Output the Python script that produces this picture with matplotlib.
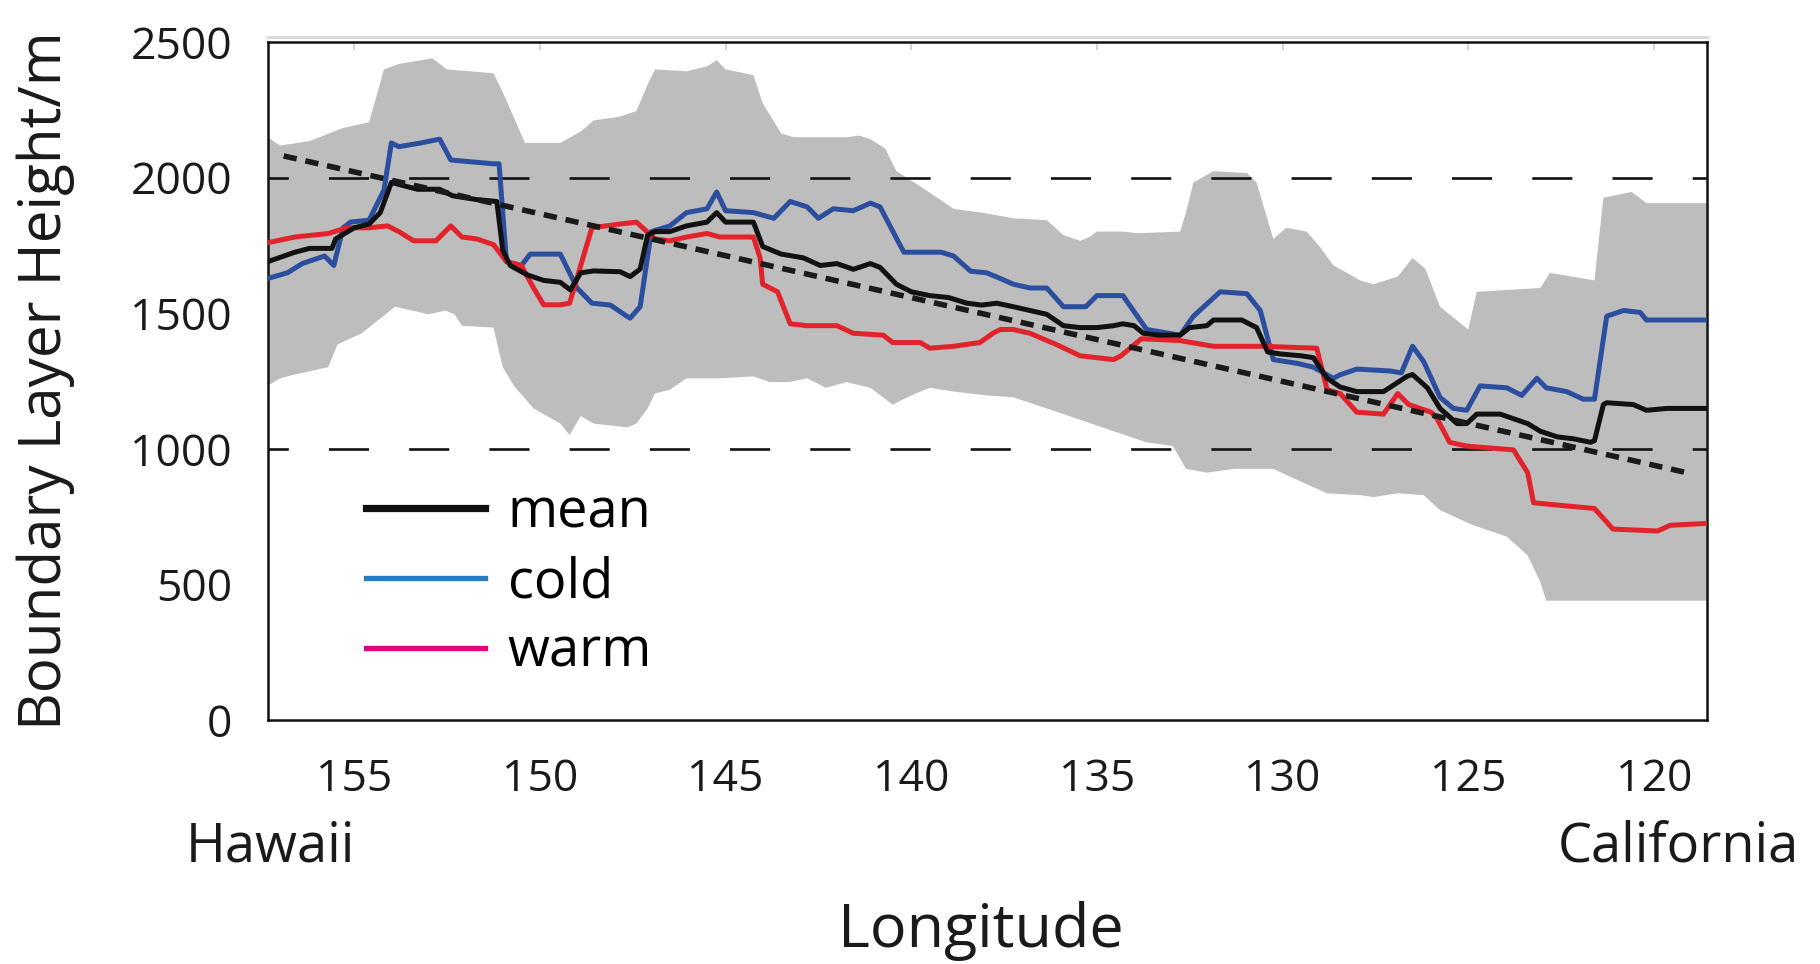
import matplotlib
matplotlib.use("Agg")
import matplotlib.pyplot as plt
from matplotlib.lines import Line2D
import numpy as np

plt.rcParams['font.family'] = ['Open Sans', 'DejaVu Sans']

# Spread envelope (upper and lower bounds of boundary layer height)
band_top_lon = [157.33, 157.0, 156.2, 155.3, 154.6, 154.2, 153.8, 152.9, 152.5, 151.25,
                151.0, 150.4, 149.45, 148.9, 148.55, 147.84, 147.4, 147.1, 146.9, 146.05,
                145.5, 145.24, 145.0, 144.25, 144.0, 143.5, 143.17, 141.74, 141.4, 141.1,
                140.7, 140.4, 139.76, 139.3, 138.86, 138.1, 137.25, 136.35, 135.9, 135.45,
                135.2, 135.0, 134.3, 133.9, 132.76, 132.6, 132.4, 131.86, 130.96, 130.7,
                130.25, 129.9, 129.35, 129.0, 128.63, 128.27, 127.9, 127.55, 126.9, 126.5,
                126.15, 125.76, 125.13, 125.0, 124.77, 123.06, 122.8, 122.2, 121.6, 121.36,
                120.6, 120.2, 118.58]
band_top_val = [2149, 2118, 2135, 2183, 2204, 2399, 2419, 2440, 2399, 2385,
                2315, 2128, 2128, 2170, 2211, 2225, 2246, 2343, 2399, 2392,
                2410, 2433, 2399, 2378, 2274, 2163, 2149, 2149, 2155, 2142,
                2107, 2024, 1968, 1926, 1885, 1871, 1850, 1843, 1788, 1767,
                1781, 1801, 1801, 1795, 1801, 1871, 1982, 2024, 2017, 1982,
                1774, 1815, 1801, 1746, 1676, 1649, 1620, 1607, 1635, 1704,
                1663, 1524, 1454, 1440, 1579, 1593, 1649, 1635, 1621, 1926,
                1947, 1906, 1906]

band_bot_lon = [157.33, 157.0, 156.6, 155.7, 155.45, 154.8, 153.9, 153.45, 153.0, 152.55,
                152.3, 152.1, 151.25, 151.0, 150.7, 150.17, 149.45, 149.2, 148.9, 148.55,
                147.65, 147.4, 147.1, 146.9, 146.5, 146.05, 145.15, 144.25, 143.8, 143.3,
                142.8, 142.3, 141.74, 141.1, 140.5, 140.0, 139.5, 138.86, 137.97, 137.25,
                136.35, 135.45, 134.55, 133.66, 132.95, 132.6, 132.04, 131.3, 130.25, 129.6,
                128.8, 127.9, 127.55, 126.9, 126.2, 125.76, 124.86, 123.96, 123.4, 123.06,
                122.9, 118.58]
band_bot_val = [1232, 1260, 1274, 1301, 1385, 1426, 1524, 1510, 1496, 1510,
                1496, 1454, 1447, 1301, 1232, 1149, 1093, 1051, 1121, 1093,
                1079, 1093, 1149, 1204, 1218, 1260, 1260, 1267, 1246, 1246,
                1260, 1225, 1246, 1225, 1163, 1197, 1225, 1211, 1197, 1190,
                1149, 1107, 1065, 1024, 1010, 926, 912, 926, 926, 885,
                836, 829, 822, 836, 829, 774, 718, 676, 607, 510,
                440, 440]

# Mean boundary layer height
mean_lon = [157.33, 156.6, 156.2, 155.6, 155.5, 155.0, 154.6, 154.3, 154.0, 153.8,
            153.3, 152.7, 152.35, 151.7, 151.16, 151.0, 150.8, 150.35, 149.9, 149.45,
            149.18, 148.9, 148.55, 147.84, 147.57, 147.3, 147.1, 146.9, 146.5, 146.05,
            145.5, 145.24, 145.0, 144.25, 144.0, 143.5, 142.9, 142.45, 142.0, 141.56,
            141.1, 140.84, 140.4, 140.0, 139.5, 139.0, 138.5, 138.1, 137.7, 137.25,
            136.8, 136.35, 135.9, 135.45, 135.0, 134.55, 134.3, 134.0, 133.75, 133.3,
            132.76, 132.5, 132.04, 131.86, 131.1, 130.7, 130.4, 130.07, 129.5, 129.17,
            128.8, 128.45, 128.0, 127.28, 126.65, 126.5, 126.1, 125.76, 125.3, 125.04,
            124.77, 124.14, 123.4, 123.06, 122.6, 122.17, 121.7, 121.6, 121.36, 121.27,
            120.55, 120.2, 119.65, 118.58]
mean_val = [1690, 1725, 1739, 1739, 1774, 1815, 1829, 1871, 1982, 1975,
            1957, 1957, 1933, 1919, 1912, 1732, 1676, 1642, 1621, 1614,
            1586, 1649, 1656, 1653, 1635, 1663, 1788, 1801, 1801, 1822,
            1836, 1871, 1836, 1836, 1746, 1718, 1704, 1676, 1683, 1662,
            1683, 1669, 1607, 1579, 1565, 1558, 1537, 1530, 1537, 1524,
            1510, 1496, 1454, 1447, 1447, 1454, 1461, 1454, 1426, 1419,
            1419, 1447, 1454, 1475, 1475, 1447, 1357, 1350, 1343, 1336,
            1260, 1228, 1211, 1211, 1267, 1274, 1225, 1149, 1093, 1093,
            1128, 1128, 1093, 1065, 1044, 1037, 1024, 1030, 1163, 1170,
            1163, 1142, 1149, 1149]

# Cold-SST composite
cold_lon = [157.33, 156.8, 156.4, 155.8, 155.55, 155.3, 155.1, 154.6, 154.2, 154.0,
            153.8, 153.2, 152.7, 152.4, 151.25, 151.1, 150.9, 150.5, 150.26, 149.45,
            149.0, 148.6, 148.1, 147.66, 147.57, 147.3, 147.0, 146.5, 146.05, 145.5,
            145.24, 145.0, 144.25, 143.7, 143.26, 142.8, 142.5, 142.1, 141.56, 141.1,
            140.84, 140.2, 139.2, 138.86, 138.4, 137.97, 137.6, 137.25, 136.8, 136.35,
            135.9, 135.3, 135.0, 134.3, 133.66, 132.76, 132.4, 131.68, 130.96, 130.6,
            130.25, 129.6, 129.17, 128.63, 128.45, 128.0, 127.1, 126.8, 126.5, 126.2,
            125.76, 125.4, 125.04, 124.68, 123.96, 123.56, 123.15, 122.9, 122.35, 121.9,
            121.6, 121.27, 120.82, 120.37, 120.2, 118.58]
cold_val = [1628, 1649, 1683, 1711, 1676, 1815, 1836, 1843, 1954, 2128,
            2114, 2128, 2142, 2065, 2051, 2051, 1690, 1676, 1718, 1718,
            1593, 1537, 1530, 1489, 1482, 1524, 1801, 1822, 1871, 1885,
            1947, 1878, 1871, 1850, 1912, 1892, 1850, 1885, 1878, 1906,
            1892, 1725, 1725, 1711, 1655, 1649, 1628, 1607, 1593, 1593,
            1524, 1524, 1565, 1565, 1440, 1419, 1489, 1579, 1572, 1510,
            1329, 1315, 1301, 1260, 1273, 1294, 1287, 1280, 1378, 1322,
            1190, 1149, 1142, 1232, 1225, 1197, 1260, 1225, 1211, 1183,
            1183, 1489, 1510, 1503, 1475, 1475]

# Warm-SST composite
warm_lon = [157.33, 156.6, 155.7, 155.2, 154.6, 154.1, 153.8, 153.4, 152.8, 152.4,
            152.1, 151.7, 151.25, 150.9, 150.5, 150.17, 149.9, 149.45, 149.2, 148.9,
            148.6, 147.84, 147.4, 146.9, 146.5, 146.05, 145.5, 145.15, 144.25, 144.07,
            144.0, 143.6, 143.26, 142.8, 142.0, 141.56, 140.75, 140.5, 139.76, 139.5,
            138.86, 138.15, 137.8, 137.6, 137.25, 136.8, 136.1, 135.45, 134.55, 134.35,
            133.8, 132.76, 131.86, 130.5, 129.08, 128.8, 128.45, 128.0, 127.28, 126.9,
            126.6, 126.0, 125.85, 125.5, 125.04, 123.78, 123.4, 123.24, 122.17, 121.6,
            121.1, 119.9, 119.56, 118.58]
warm_val = [1760, 1781, 1794, 1815, 1815, 1822, 1801, 1767, 1767, 1822,
            1781, 1774, 1753, 1690, 1676, 1593, 1531, 1531, 1537, 1676,
            1815, 1829, 1836, 1774, 1767, 1781, 1794, 1781, 1781, 1704,
            1607, 1579, 1461, 1454, 1454, 1426, 1419, 1392, 1392, 1371,
            1378, 1392, 1426, 1440, 1440, 1426, 1385, 1343, 1329, 1343,
            1406, 1399, 1378, 1378, 1371, 1218, 1204, 1135, 1128, 1204,
            1163, 1135, 1114, 1024, 1010, 996, 912, 801, 787, 780,
            704, 697, 718, 725]

# Linear trend of the mean
trend_lon = [156.9, 119.05]
trend_val = [2080, 910]

ref_levels = [1000, 2000]
x_ticks = [155, 150, 145, 140, 135, 130, 125, 120]
y_ticks = [0, 500, 1000, 1500, 2000, 2500]

fig = plt.figure(figsize=(18.2, 9.64), dpi=100)
ax = fig.add_axes([0.1473, 0.2531, 0.7906, 0.7033])

# Envelope polygon
poly_x = np.concatenate([band_top_lon, band_bot_lon[::-1]])
poly_y = np.concatenate([band_top_val, band_bot_val[::-1]])
ax.fill(poly_x, poly_y, color='#bdbdbd', lw=0, zorder=1)

# Reference levels
for lvl in ref_levels:
    ax.axhline(lvl, color='#111111', lw=1.9, linestyle=(7.5, (15.2, 15.2)), zorder=2)

ax.plot(cold_lon, cold_val, color='#2c4e9f', lw=3.6, zorder=3, solid_joinstyle='round')
ax.plot(warm_lon, warm_val, color='#e3232b', lw=3.6, zorder=4, solid_joinstyle='round')
ax.plot(mean_lon, mean_val, color='#111111', lw=3.6, zorder=5, solid_joinstyle='round')
ax.plot(trend_lon, trend_val, color='#1a1a1a', lw=4.0, linestyle=(0, (2.4, 1.6)), zorder=6)

ax.set_xlim(157.32, 118.57)
ax.set_ylim(0, 2500)
ax.set_xticks(x_ticks)
ax.set_xticklabels([str(t) for t in x_ticks])
ax.set_yticks(y_ticks)
ax.set_yticklabels([str(t) for t in y_ticks])

ax.tick_params(axis='y', length=0, pad=26, labelsize=32, labelcolor='#1a1a1a')
ax.tick_params(axis='x', bottom=False, top=True, direction='in', length=6, width=1.5,
               color='#d4d4d4', pad=27, labelsize=32, labelcolor='#1a1a1a')

for sp in ax.spines.values():
    sp.set_linewidth(1.8)
    sp.set_color('#111111')

# faint rule above the frame
ax.plot([0, 1], [1.008, 1.008], transform=ax.transAxes, color='#dadada', lw=2.2,
        clip_on=False, zorder=0)

ax.set_ylabel('Boundary Layer Height/m', fontsize=42, color='#1a1a1a', va='center')
ax.yaxis.set_label_coords(-0.1543, 0.50)
ax.set_xlabel('Longitude', fontsize=44, color='#1a1a1a', va='center')
ax.xaxis.set_label_coords(0.4955, -0.311)

ax.text(0.0014, -0.188, 'Hawaii', transform=ax.transAxes, ha='center', va='center',
        fontsize=39, color='#1a1a1a')
ax.text(0.9798, -0.188, 'California', transform=ax.transAxes, ha='center', va='center',
        fontsize=39, color='#1a1a1a')

handles = [Line2D([], [], color='#111111', lw=5.2),
           Line2D([], [], color='#2b7bc2', lw=3.8),
           Line2D([], [], color='#e4007c', lw=3.8)]
ax.legend(handles, ['mean', 'cold', 'warm'], loc='upper left',
          bbox_to_anchor=(0.068, 0.346), frameon=False, fontsize=39,
          handlelength=2.2, handletextpad=0.42, labelspacing=0.27,
          borderaxespad=0, borderpad=0)

fig.savefig('out.png', dpi=100)
